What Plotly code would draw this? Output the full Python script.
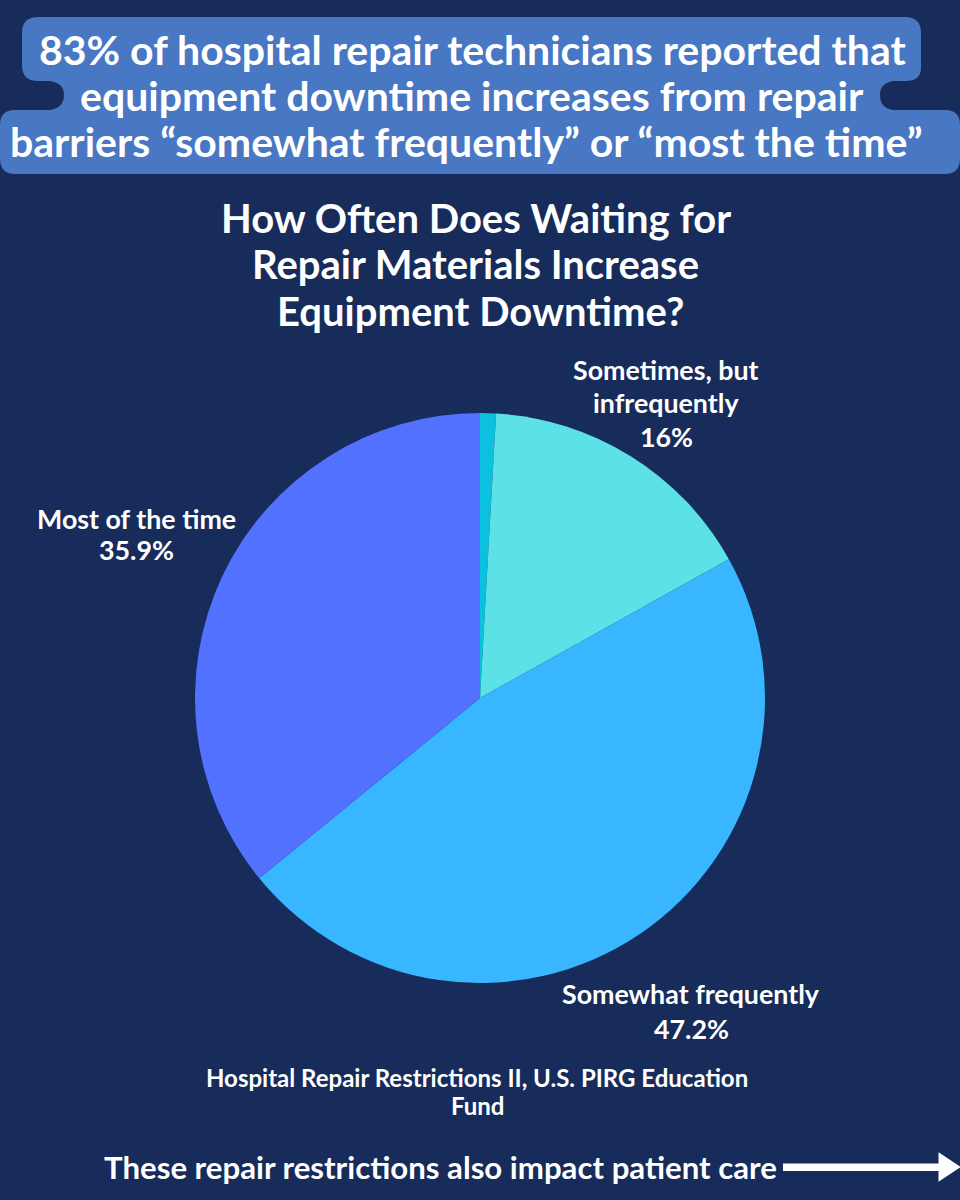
import plotly.graph_objects as go

# slices clockwise from 12 o'clock
categories = ["Not often", "Sometimes, but infrequently", "Somewhat frequently", "Most of the time"]
values = [0.9, 16, 47.2, 35.9]
colors = ["#0CC0DF", "#5CE1E6", "#38B6FF", "#5271FF"]

banner_lines = [
    "83% of hospital repair technicians reported that",
    "equipment downtime increases from repair",
    "barriers “somewhat frequently” or “most the time”",
]
title_lines = [
    "How Often Does Waiting for",
    "Repair Materials Increase",
    "Equipment Downtime?",
]
source_lines = ["Hospital Repair Restrictions II, U.S. PIRG Education", "Fund"]
footer = "These repair restrictions also impact patient care"

W, H = 960, 1200
BG = "#172C5B"
FONT = "Lato"


def px(x):
    return x / W


def py(y):
    return 1 - y / H


def P(x, y):
    return f"{px(x):.5f},{py(y):.5f}"


def text(x, y, s, size, weight=700):
    fig.add_annotation(
        x=px(x), y=py(y), xref="paper", yref="paper", text=s, showarrow=False,
        xanchor="center", yanchor="middle",
        font=dict(family=FONT, size=size, color="white", weight=weight),
    )


fig = go.Figure(
    go.Pie(
        labels=categories,
        values=values,
        sort=False,
        direction="clockwise",
        rotation=0,
        marker=dict(colors=colors, line=dict(width=0)),
        textinfo="none",
        hoverinfo="label+percent",
        showlegend=False,
        domain=dict(x=[px(195), px(765)], y=[py(983), py(413)]),
    )
)

# stepped rounded banner behind the headline
banner = " ".join([
    "M", P(38, 17), "L", P(905, 17), "Q", P(921, 17), P(921, 33),
    "L", P(921, 68), "Q", P(921, 81), P(905, 81),
    "L", P(893, 81), "Q", P(880, 83), P(880, 95), "Q", P(880, 108), P(893, 110),
    "L", P(945, 110), "Q", P(960, 110), P(960, 125),
    "L", P(960, 158), "Q", P(960, 174), P(945, 174),
    "L", P(15, 174), "Q", P(0, 174), P(0, 158),
    "L", P(0, 125), "Q", P(0, 110), P(15, 110),
    "L", P(50, 110), "Q", P(64, 108), P(64, 95), "Q", P(64, 83), P(50, 81),
    "L", P(38, 81), "Q", P(22, 81), P(22, 65),
    "L", P(22, 33), "Q", P(22, 17), P(38, 17), "Z",
])
fig.add_shape(type="path", path=banner, xref="paper", yref="paper",
              fillcolor="#4878C4", line=dict(width=0), layer="below")

for s, x, y in zip(banner_lines, [472, 472, 466], [50, 96, 142]):
    text(x, y, s, 41)
for s, x, y in zip(title_lines, [476, 475, 480], [218, 264, 311]):
    text(x, y, s, 40)

text(666, 370, "Sometimes, but", 26.8)
text(666, 403, "infrequently", 26.8)
text(666, 437, "16%", 26.8)
text(136.5, 519, "Most of the time", 26.8)
text(136.5, 550, "35.9%", 26.8)
text(691, 994, "Somewhat frequently", 26.8)
text(691, 1029, "47.2%", 26.8)

for s, y in zip(source_lines, [1077, 1105]):
    text(477, y, s, 24)
text(440, 1167, footer, 31.2)

# arrow at the bottom right
fig.add_shape(type="rect", x0=px(783), x1=px(942), y0=py(1163.5), y1=py(1171),
              xref="paper", yref="paper", fillcolor="white", line=dict(width=0))
head = " ".join(["M", P(940, 1155), "L", P(958, 1167), "L", P(940, 1179), "Z"])
fig.add_shape(type="path", path=head, xref="paper", yref="paper",
              fillcolor="white", line=dict(color="white", width=3))

fig.update_layout(
    width=W, height=H,
    margin=dict(l=0, r=0, t=0, b=0),
    paper_bgcolor=BG,
    plot_bgcolor=BG,
    font=dict(family=FONT, color="white"),
)

fig.write_html(
    "out.html",
    config=dict(displayModeBar=False),
    post_script="document.body.style.margin='0';document.body.style.background='#172C5B';",
)
